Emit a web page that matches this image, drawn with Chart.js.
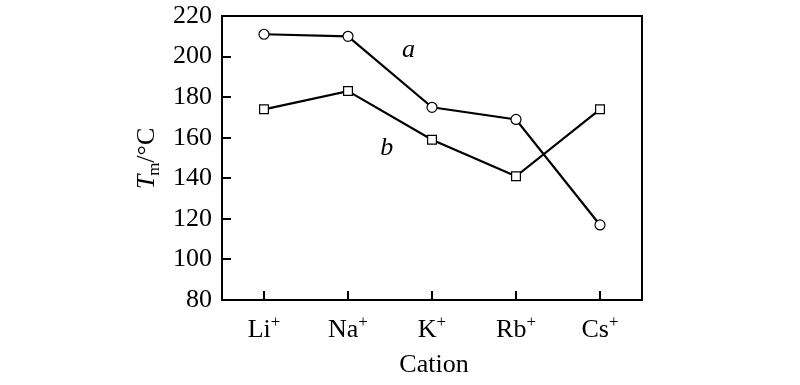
<!DOCTYPE html>
<html>
<head>
<meta charset="utf-8">
<script src="https://cdn.jsdelivr.net/npm/chart.js@4"></script>
<style>
html,body{margin:0;padding:0;background:#fff;}
#wrap{width:800px;height:385px;}
</style>
</head>
<body>
<div id="wrap"><canvas id="c" width="800" height="385"></canvas></div>
<script>
const categories = ["Li", "Na", "K", "Rb", "Cs"];
const seriesA = [211, 210, 175, 169, 117];
const seriesB = [174, 183, 159, 141, 174];
const yTicks = [80, 100, 120, 140, 160, 180, 200, 220];
const seriesLabels = ["a", "b"];
const labelPos = [{x: 1.72, y: 203}, {x: 1.46, y: 155}];

const FONT = '"Liberation Serif", "Times New Roman", serif';

const framePlugin = {
  id: 'frame',
  afterDraw(chart) {
    const ctx = chart.ctx, a = chart.chartArea;
    const xs = chart.scales.x, ys = chart.scales.y;
    ctx.save();
    ctx.strokeStyle = '#000';
    ctx.lineWidth = 2;
    ctx.strokeRect(a.left, a.top, a.right - a.left, a.bottom - a.top);
    ctx.beginPath();
    yTicks.forEach(v => {
      if (v === 80 || v === 220) return;
      const y = Math.round(ys.getPixelForValue(v));
      ctx.moveTo(a.left, y); ctx.lineTo(a.left + 9, y);
    });
    categories.forEach((c, i) => {
      const x = Math.round(xs.getPixelForValue(i));
      ctx.moveTo(x, a.bottom); ctx.lineTo(x, a.bottom - 9);
    });
    ctx.stroke();
    // x tick labels with superscript +
    ctx.fillStyle = '#000';
    ctx.textBaseline = 'alphabetic';
    categories.forEach((c, i) => {
      const x = xs.getPixelForValue(i);
      ctx.font = '26px ' + FONT;
      const w1 = ctx.measureText(c).width;
      ctx.font = '17px ' + FONT;
      const w2 = ctx.measureText('+').width;
      const x0 = x - (w1 + w2) / 2;
      ctx.font = '26px ' + FONT;
      ctx.textAlign = 'left';
      ctx.fillText(c, x0, a.bottom + 37);
      ctx.font = '17px ' + FONT;
      ctx.fillText('+', x0 + w1, a.bottom + 27);
    });
    // x title
    ctx.font = '26px ' + FONT;
    ctx.textAlign = 'center';
    ctx.fillText('Cation', (a.left + a.right) / 2 + 2, a.bottom + 72);
    // y title rotated: T_m/°C
    ctx.save();
    ctx.translate(a.left - 68, (a.top + a.bottom) / 2);
    ctx.rotate(-Math.PI / 2);
    ctx.font = 'italic 26px ' + FONT;
    const wT = ctx.measureText('T').width;
    ctx.font = '17px ' + FONT;
    const wm = ctx.measureText('m').width;
    ctx.font = '26px ' + FONT;
    const wr = ctx.measureText('/°C').width;
    let x0 = -(wT + wm + wr) / 2;
    ctx.textAlign = 'left';
    ctx.font = 'italic 26px ' + FONT;
    ctx.fillText('T', x0, 0);
    ctx.font = '17px ' + FONT;
    ctx.fillText('m', x0 + wT - 1, 5);
    ctx.font = '26px ' + FONT;
    ctx.fillText('/°C', x0 + wT + wm - 1, 0);
    ctx.restore();
    // series labels
    ctx.font = 'italic 26px ' + FONT;
    ctx.textAlign = 'center';
    ctx.textBaseline = 'middle';
    seriesLabels.forEach((s, i) => {
      ctx.fillText(s, xs.getPixelForValue(labelPos[i].x), ys.getPixelForValue(labelPos[i].y));
    });
    ctx.restore();
  }
};

new Chart(document.getElementById('c'), {
  type: 'line',
  data: {
    labels: categories,
    datasets: [
      {label: 'a', data: seriesA, borderColor: '#000', borderWidth: 2.2, pointStyle: 'circle', pointRadius: 5, pointBorderWidth: 1.2, pointBackgroundColor: '#fff', pointBorderColor: '#000', tension: 0},
      {label: 'b', data: seriesB, borderColor: '#000', borderWidth: 2.2, pointStyle: 'rect', pointRadius: 6.2, pointBorderWidth: 1.2, pointBackgroundColor: '#fff', pointBorderColor: '#000', tension: 0}
    ]
  },
  options: {
    responsive: false,
    animation: false,
    devicePixelRatio: 1,
    layout: {padding: {left: 0, right: 158, top: 16, bottom: 0}},
    plugins: {legend: {display: false}, tooltip: {enabled: false}},
    scales: {
      x: {
        type: 'category',
        offset: true,
        grid: {display: false},
        border: {display: false},
        ticks: {display: false},
        afterFit(s) { s.height = 85; s.paddingLeft = 0; s.paddingRight = 0; }
      },
      y: {
        min: 80, max: 220,
        afterBuildTicks(s) { s.ticks = yTicks.map(v => ({value: v})); },
        grid: {display: false},
        border: {display: false},
        ticks: {color: '#000', font: {family: FONT, size: 26}, padding: 2},
        afterFit(s) { s.width = 222; s.paddingTop = 0; s.paddingBottom = 0; }
      }
    }
  },
  plugins: [framePlugin]
});
</script>
</body>
</html>
